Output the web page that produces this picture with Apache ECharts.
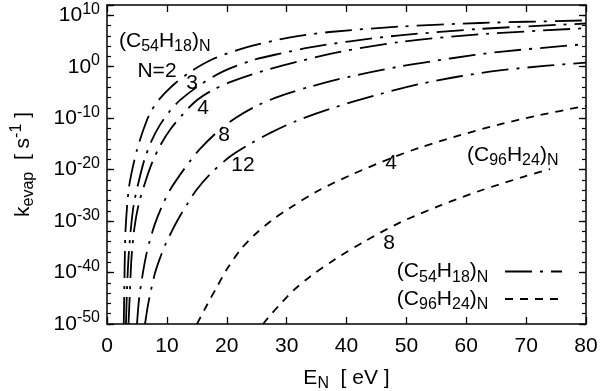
<!DOCTYPE html>
<html>
<head>
<meta charset="utf-8">
<script src="https://cdn.jsdelivr.net/npm/echarts@6/dist/echarts.min.js"></script>
<style>
html, body { margin: 0; padding: 0; background: #fff; }
#chart { width: 600px; height: 391px; }
</style>
</head>
<body>
<div id="chart"></div>
<script>
// [E_N in eV, log10 of k_evap in s^-1]
const c54n2 = [[2.8, -50], [2.89, -43.4], [2.97, -37.2], [3.12, -31.2], [3.6, -24], [4.2, -20.1], [5, -16.2], [6, -12.5], [7.2, -9], [8.9, -6.1], [11.4, -3.2], [13.9, -1], [17.7, 1.5], [23.4, 3.8], [30.6, 5.7], [37.2, 6.75], [48.9, 7.8], [62.3, 8.5], [80, 9]]
const c54n3 = [[3.17, -50], [3.34, -43.4], [3.59, -37.2], [4.01, -31.2], [4.51, -26.5], [5.51, -21.3], [6.35, -17.7], [7.52, -14.2], [8.85, -11.3], [10.5, -8.6], [12.2, -6.5], [15.5, -3.55], [19.4, -0.9], [24.4, 1.3], [28.9, 2.55], [33.9, 3.75], [40.6, 4.95], [48.9, 6.1], [62.3, 7.35], [80, 8.4]]
const c54n4 = [[3.59, -50], [3.84, -43.4], [4.09, -37.2], [4.59, -31.2], [5.34, -26.5], [6.51, -22], [7.52, -18.7], [8.85, -15.4], [10.5, -12.3], [12.7, -9.2], [15, -6.5], [17.7, -4.5], [21, -2.8], [26.7, -0.6], [32.2, 1.1], [38.9, 2.9], [48.9, 4.8], [62.3, 6.3], [80, 7.5]]
const c54n8 = [[5.01, -50], [5.34, -45.3], [5.85, -41.1], [6.51, -36.8], [7.18, -33.7], [8.02, -30.5], [9.19, -27.1], [10.5, -24], [12.2, -21], [13.9, -18.3], [15.5, -16], [18.4, -12.7], [21.4, -10], [25, -7.6], [28.9, -5.7], [33.9, -3.9], [40.6, -1.9], [48.9, 0.05], [57.3, 1.6], [65.6, 2.9], [80, 4.4]]
const c54n12 = [[6.35, -50], [6.85, -46.3], [7.35, -43.4], [8.02, -40.1], [8.85, -37.2], [9.85, -34.3], [10.9, -31.8], [11.9, -29.6], [13.4, -26.7], [14.9, -24], [17.2, -20.9], [20.5, -17.5], [23.9, -15], [27.2, -12.9], [31.7, -10.5], [37.2, -8.2], [45.6, -5.3], [52.3, -3.35], [59, -1.85], [65.6, -0.7], [73.5, 0.2], [80, 0.8]]
const c96n4 = [[15.03, -50], [16.7, -46.3], [18.4, -42.7], [20, -39.4], [22.2, -35.7], [24.7, -32.6], [27.6, -29.8], [30.6, -27.4], [35.1, -24.2], [40.6, -21.1], [47.8, -17.6], [52.3, -15.7], [59, -13.3], [65.6, -11.2], [72.3, -9.4], [80, -7.6]]
const c96n8 = [[26.05, -50], [27.5, -48], [29.2, -45.8], [31.2, -43.4], [33.9, -40.8], [38.1, -37.4], [43.1, -33.9], [48.9, -30.3], [55.6, -27], [62.3, -24.1], [69.8, -21.3], [74, -19.9]]

const xRange = [0, 80]
const yExpRange = [-50, 12]

const FONT = "'Liberation Sans', Arial, Helvetica, sans-serif"
const rich = {
  b: { fontFamily: FONT, fontSize: 21, lineHeight: 28, color: '#000' },
  sub: { fontFamily: FONT, fontSize: 16, verticalAlign: 'bottom', color: '#000' },
  sup: { fontFamily: FONT, fontSize: 16, verticalAlign: 'top', color: '#000' }
}
const c54Text = '{b|(C}{sub|54}{b|H}{sub|18}{b|)}{sub|N}'
const c96Text = '{b|(C}{sub|96}{b|H}{sub|24}{b|)}{sub|N}'

const dashDot = [27, 8, 3, 8]
const dashed = [8, 7]

function curve(name, data, dash) {
  return {
    name: name,
    type: 'line',
    data: data,
    symbol: 'none',
    smooth: 0.3,
    lineStyle: { color: '#000', width: 1.8, type: dash },
    itemStyle: { color: '#000' }
  }
}

function frameAxis(extra) {
  return Object.assign({
    type: 'value',
    axisLine: { show: true, onZero: false, lineStyle: { color: '#000', width: 1.5 } },
    axisTick: { show: true, inside: true, length: 7, lineStyle: { color: '#000', width: 1.3 } },
    axisLabel: { show: false },
    splitLine: { show: false }
  }, extra)
}

function textLabel(text, x, y, align) {
  return {
    type: 'text',
    x: x,
    y: y,
    silent: true,
    style: {
      text: text,
      rich: rich,
      fill: '#000',
      fontFamily: FONT,
      fontSize: 21,
      textAlign: align || 'center',
      textVerticalAlign: 'middle'
    }
  }
}

const chart = echarts.init(document.getElementById('chart'))
chart.setOption({
  animation: false,
  backgroundColor: '#fff',
  grid: { left: 107, right: 14, top: 5, bottom: 67, containLabel: false, outerBoundsMode: 'none' },
  xAxis: [
    frameAxis({
      position: 'bottom',
      min: xRange[0],
      max: xRange[1],
      interval: 10,
      axisLabel: { show: true, margin: 12, color: '#000', fontFamily: FONT, fontSize: 21 },
      name: '{b|E}{sub|N}{b|  [ eV ]}',
      nameLocation: 'middle',
      nameGap: 40,
      nameTextStyle: { rich: rich }
    }),
    frameAxis({ position: 'top', min: xRange[0], max: xRange[1], interval: 10 })
  ],
  yAxis: [
    frameAxis({
      position: 'left',
      min: yExpRange[0],
      max: yExpRange[1],
      interval: 10,
      axisLabel: {
        show: true,
        margin: 7,
        formatter: function(v) {
          return v % 10 === 0 ? '{b|10}{sup|' + v + '}' : ''
        },
        rich: rich
      },
      name: '{b|k}{sub|evap}{b|  [ s}{sup|-1}{b| ]}',
      nameLocation: 'middle',
      nameRotate: 90,
      nameGap: 70,
      nameTextStyle: { rich: rich }
    }),
    frameAxis({
      position: 'left',
      min: yExpRange[0],
      max: yExpRange[1],
      interval: 2,
      axisLine: { show: false, onZero: false },
      axisTick: { show: true, inside: true, length: 4, lineStyle: { color: '#000', width: 1.2 } }
    }),
    frameAxis({ position: 'right', min: yExpRange[0], max: yExpRange[1], interval: 10 }),
    frameAxis({
      position: 'right',
      min: yExpRange[0],
      max: yExpRange[1],
      interval: 2,
      axisLine: { show: false, onZero: false },
      axisTick: { show: true, inside: true, length: 4, lineStyle: { color: '#000', width: 1.2 } }
    })
  ],
  legend: {
    data: ['c54', 'c96'],
    orient: 'vertical',
    align: 'right',
    right: 32,
    top: 256,
    itemWidth: 57,
    itemHeight: 14,
    itemGap: 3,
    selectedMode: false,
    itemStyle: { opacity: 0 },
    formatter: function(name) {
      return name === 'c54' ? c54Text + '{b|  }' : c96Text + '{b|  }'
    },
    textStyle: { rich: rich }
  },
  graphic: [
    textLabel(c54Text, 119, 41, 'left'),
    textLabel('N=2', 157, 71),
    textLabel('3', 192, 83),
    textLabel('4', 203, 108),
    textLabel('8', 224, 135),
    textLabel('12', 243, 165),
    textLabel(c96Text, 467, 155, 'left'),
    textLabel('4', 391, 163),
    textLabel('8', 389, 243)
  ],
  series: [
    curve('c54', c54n2, dashDot),
    curve('c54', c54n3, dashDot),
    curve('c54', c54n4, dashDot),
    curve('c54', c54n8, dashDot),
    curve('c54', c54n12, dashDot),
    curve('c96', c96n4, dashed),
    curve('c96', c96n8, dashed)
  ]
})
</script>
</body>
</html>
